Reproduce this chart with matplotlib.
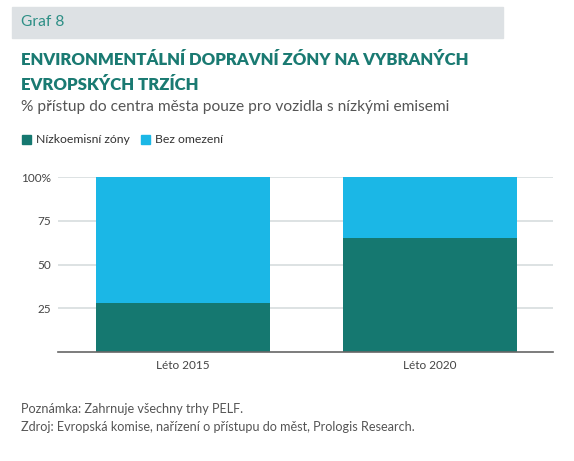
import matplotlib
matplotlib.use("Agg")
import matplotlib.pyplot as plt
from matplotlib.patches import Rectangle

plt.rcParams['font.family'] = ['Lato', 'DejaVu Sans']

categories = ["Léto 2015", "Léto 2020"]
low_emission = [28, 65]
no_limit = [72, 35]
series_labels = ["Nízkoemisní zóny", "Bez omezení"]
yticks = [25, 50, 75, 100]
ytick_labels = ["25", "50", "75", "100%"]

DARK = '#157870'
LIGHT = '#1bb7e6'
TEAL_TXT = '#1a7a72'
GREY_TXT = '#555555'

W, H = 574, 461
fig = plt.figure(figsize=(W / 100, H / 100), dpi=100)

def fx(px):
    return px / W

def fy(py):
    return 1 - py / H

# header band
fig.patches.append(Rectangle((fx(12), fy(38)), fx(491), 31 / H,
                             transform=fig.transFigure, color='#dde1e4', zorder=0))
fig.text(fx(21), fy(22), "Graf 8", color='#2e8f86', fontsize=11.2, va='center')

fig.text(fx(21), fy(60), "ENVIRONMENTÁLNÍ DOPRAVNÍ ZÓNY NA VYBRANÝCH",
         color=TEAL_TXT, fontsize=12.1, fontweight='heavy', va='center')
fig.text(fx(21), fy(85), "EVROPSKÝCH TRZÍCH",
         color=TEAL_TXT, fontsize=12.1, fontweight='heavy', va='center')
fig.text(fx(21), fy(107), "% přístup do centra města pouze pro vozidla s nízkými emisemi",
         color=GREY_TXT, fontsize=11.2, va='center')

# legend
for x0, lab, col in [(22, series_labels[0], DARK), (141, series_labels[1], LIGHT)]:
    fig.patches.append(Rectangle((fx(x0), fy(144)), 9 / W, 9 / H,
                                 transform=fig.transFigure, color=col))
    fig.text(fx(x0 + 14), fy(139.5), lab, color='#333333', fontsize=8.8, va='center')

ax = fig.add_axes([fx(58), fy(352), fx(495), (352 - 177) / H])
x = range(len(categories))
ax.bar(x, low_emission, width=0.704, color=DARK, zorder=3)
ax.bar(x, no_limit, bottom=low_emission, width=0.704, color=LIGHT, zorder=3)
ax.set_xlim(-0.506, 1.498)
ax.set_ylim(0, 100)
ax.set_yticks(yticks)
ax.set_yticklabels(ytick_labels)
ax.set_xticks(list(x))
ax.set_xticklabels(categories)
ax.grid(axis='y', color='#dde2e3', linewidth=1.4, zorder=0)
ax.tick_params(axis='both', length=0, labelsize=8.5, labelcolor='#444444')
ax.tick_params(axis='y', pad=5)
ax.tick_params(axis='x', pad=6)
for s in ['top', 'right', 'left']:
    ax.spines[s].set_visible(False)
ax.spines['bottom'].set_color('#666666')
ax.spines['bottom'].set_linewidth(1.2)
ax.spines['bottom'].set_zorder(4)

fig.text(fx(21), fy(409), "Poznámka: Zahrnuje všechny trhy PELF.",
         color=GREY_TXT, fontsize=9.1, va='center')
fig.text(fx(21), fy(427), "Zdroj: Evropská komise, nařízení o přístupu do měst, Prologis Research.",
         color=GREY_TXT, fontsize=9.1, va='center')

fig.savefig("out.png", dpi=100, facecolor='white')
